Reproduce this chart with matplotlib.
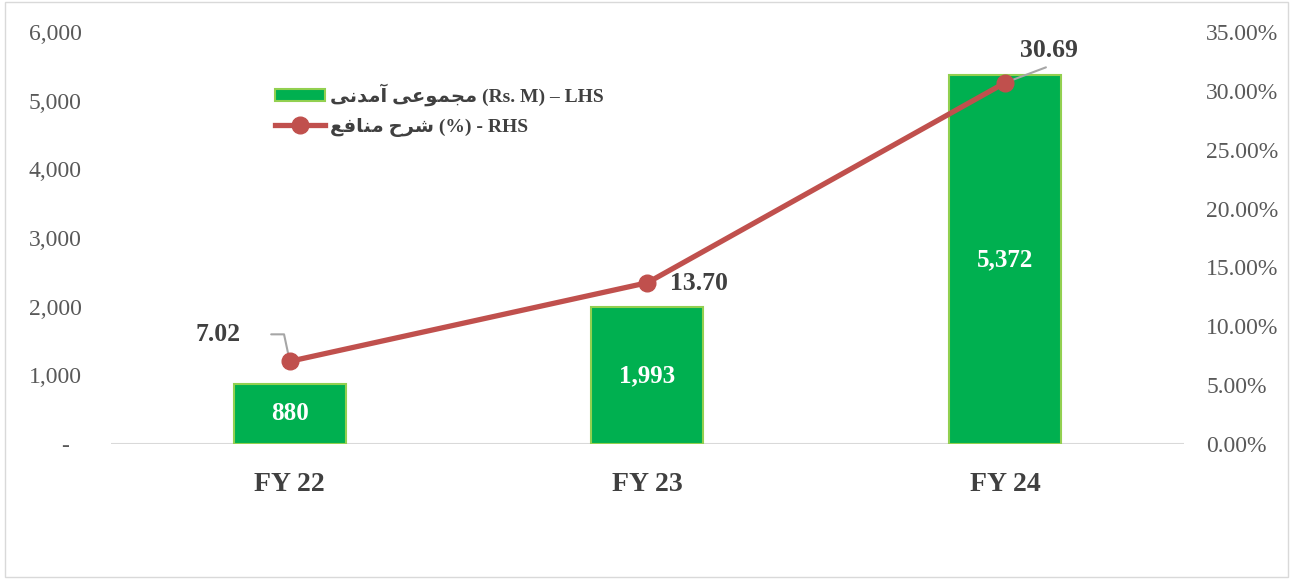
import matplotlib
matplotlib.use('Agg')
import matplotlib.pyplot as plt
from matplotlib.ticker import FuncFormatter, MultipleLocator
from matplotlib.patches import Rectangle
from matplotlib.lines import Line2D

# data
years = ['FY 22', 'FY 23', 'FY 24']
revenue = [880, 1993, 5372]          # Rs. M, LHS
profit_ratio = [7.02, 13.70, 30.69]  # %, RHS

# pre-shaped Urdu text (visual order, presentation forms)
lbl_revenue = '\uFEF0\uFEE7\uFEAA\uFEE3\uFE81 \uFEF0\uFECB\uFEEE\uFEE4\uFEA0\uFEE3 (Rs. M) \u2013 LHS'
lbl_ratio = '\uFECA\uFED3\uFE8E\uFEE8\uFEE3 \uFEA1\uFEAE\uFEB7 (%) - RHS'

serif = ['Liberation Serif', 'DejaVu Sans']
plt.rcParams['font.family'] = serif

bar_col = '#00B050'
bar_edge = '#92D050'
line_col = '#C0504D'
txt_col = '#404040'
tick_col = '#595959'

fig = plt.figure(figsize=(12.93, 5.79), dpi=100)
ax = fig.add_axes([0.0858, 0.2332, 0.8299, 0.7116])
ax2 = ax.twinx()

x = list(range(len(years)))
bars = ax.bar(x, revenue, width=0.313, color=bar_col, edgecolor=bar_edge,
              linewidth=1.5, zorder=2)
ax.set_xlim(-0.5, 2.5)
ax.set_ylim(0, 6000)
ax.yaxis.set_major_locator(MultipleLocator(1000))
ax.yaxis.set_major_formatter(FuncFormatter(lambda v, p: '-  ' if v == 0 else f'{v:,.0f}'))
ax.set_xticks(x)
ax.set_xticklabels(years, fontsize=20, fontweight='bold', color=txt_col)
ax.tick_params(axis='x', length=0, pad=20.5)
ax.tick_params(axis='y', length=0, labelsize=17, labelcolor=tick_col, pad=21)
for s in ax.spines.values():
    s.set_visible(False)
ax.axhline(0, color='#D9D9D9', lw=1.5, zorder=1)

for b, v in zip(bars, revenue):
    ax.text(b.get_x() + b.get_width() / 2, v / 2, f'{v:,}', ha='center',
            va='center', color='white', fontsize=18, fontweight='bold', zorder=3)

ax2.plot(x, profit_ratio, color=line_col, lw=3.8, marker='o', ms=12, zorder=4)
ax2.set_ylim(0, 35)
ax2.yaxis.set_major_locator(MultipleLocator(5))
ax2.yaxis.set_major_formatter(FuncFormatter(lambda v, p: f'{v:.2f}%'))
ax2.tick_params(axis='y', length=0, labelsize=17, labelcolor=tick_col, pad=16)
for s in ax2.spines.values():
    s.set_visible(False)

lead = dict(arrowstyle='-', color='#A6A6A6', lw=1.5, shrinkA=0, shrinkB=0)
ax2.annotate(f'{profit_ratio[0]:.2f}', (x[0], profit_ratio[0]), xytext=(-72, 27),
             textcoords='offset pixels', ha='center', va='center', fontsize=18.5,
             fontweight='bold', color=txt_col,
             bbox=dict(boxstyle='square,pad=1.2', fc='none', ec='none'),
             arrowprops=dict(lead, connectionstyle='angle,angleA=0,angleB=102,rad=0'))
ax2.annotate(f'{profit_ratio[1]:.2f}', (x[1], profit_ratio[1]), xytext=(23, -1),
             textcoords='offset pixels', ha='left', va='center', fontsize=18.5,
             fontweight='bold', color=txt_col)
ax2.annotate(f'{profit_ratio[2]:.2f}', (x[2], profit_ratio[2]), xytext=(44, 32),
             textcoords='offset pixels', ha='center', va='center', fontsize=18.5,
             fontweight='bold', color=txt_col,
             bbox=dict(boxstyle='square,pad=0.2', fc='none', ec='none'),
             arrowprops=dict(lead, relpos=(0.68, 0.0)))

handles = [Rectangle((0, 0), 1, 1, fc=bar_col, ec=bar_edge, lw=1.5),
           Line2D([], [], color=line_col, lw=3.8, marker='o', ms=12)]
leg = ax2.legend(handles, [lbl_revenue, lbl_ratio], loc='upper left',
                 bbox_to_anchor=(0.1528, 0.875), frameon=False,
                 borderpad=0, borderaxespad=0,
                 prop=dict(family=serif, weight='bold', size=14),
                 handlelength=2.6, handleheight=0.6, handletextpad=0.25,
                 labelspacing=0.6)
for t in leg.get_texts():
    t.set_color(txt_col)

fig.patches.append(Rectangle((0.004, 0.004), 0.992, 0.992, transform=fig.transFigure,
                             fill=False, ec='#D9D9D9', lw=1))

fig.savefig('out.png', dpi=100)
